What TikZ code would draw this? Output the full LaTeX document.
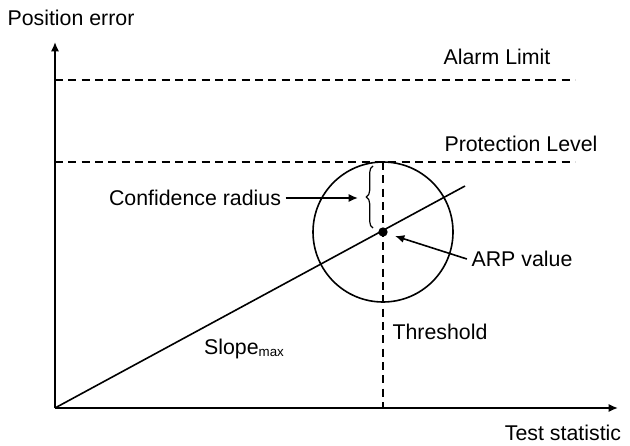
\documentclass[tikz,border=0pt]{standalone}
\usepackage{fontspec}
\setmainfont{Liberation Sans}
\usetikzlibrary{arrows.meta, positioning, decorations.pathreplacing}

\begin{document}
\begin{tikzpicture}[x=0.75pt, y=-0.75pt, font=\fontsize{16}{18}\selectfont,
    axis/.style={line width=1.2pt, -{Latex[length=7pt, width=6pt]}},
    limitline/.style={line width=1.2pt, dash pattern=on 6pt off 4pt},
    pointer/.style={line width=1.2pt, -{Latex[length=7pt, width=6pt]}}]
    \useasboundingbox (0,0) rectangle (630,445);

    % Axes
    \coordinate (O) at (55,408);
    \coordinate (Ytop) at (55,42);
    \coordinate (Xend) at (618,408);
    \draw[axis] (O) -- (Ytop);
    \draw[axis] (O) -- (Xend);
    \node (YLabel) at (71,18) {Position error};
    \node (XLabel) at (563,433) {Test statistic};

    % Alarm limit
    \coordinate (AL1) at (55,80);
    \coordinate (AL2) at (575,80);
    \draw[limitline] (AL1) -- (AL2);
    \node (Alarm) at (497,57) {Alarm Limit};

    % Protection level
    \coordinate (PL1) at (55,162);
    \coordinate (PL2) at (575,162);
    \draw[limitline] (PL1) -- (PL2);
    \node (Protection) at (521,144) {Protection Level};

    % Threshold
    \coordinate (TH1) at (383,162);
    \coordinate (TH2) at (383,408);
    \draw[limitline] (TH1) -- (TH2);
    \node (Threshold) at (440,332) {Threshold};

    % Slope line
    \coordinate (SlopeEnd) at (465,186);
    \draw[line width=1.2pt] (O) -- (SlopeEnd);
    \node (Slope) at (244,349) {Slope\raisebox{-1.5pt}{\fontsize{10}{10}\selectfont max}};

    % Circle around ARP value
    \node[circle, fill, inner sep=0pt, minimum size=7pt] (ARP) at (383,232) {};
    \draw[line width=1.2pt] (ARP) circle[radius=70];

    % Confidence radius
    \draw[line width=0.9pt, decorate, decoration={brace, amplitude=5pt}] (373,228) -- (373,166);
    \coordinate (BraceTip) at (358,198);
    \node (Conf) at (195,198) {Confidence radius};
    \draw[pointer] (Conf.east) -- (BraceTip);

    % ARP value
    \node (ARPLabel) at (522,259) {ARP value};
    \draw[pointer] (ARPLabel.west) -- ([xshift=9pt, yshift=-3pt]ARP.center);
\end{tikzpicture}
\end{document}
